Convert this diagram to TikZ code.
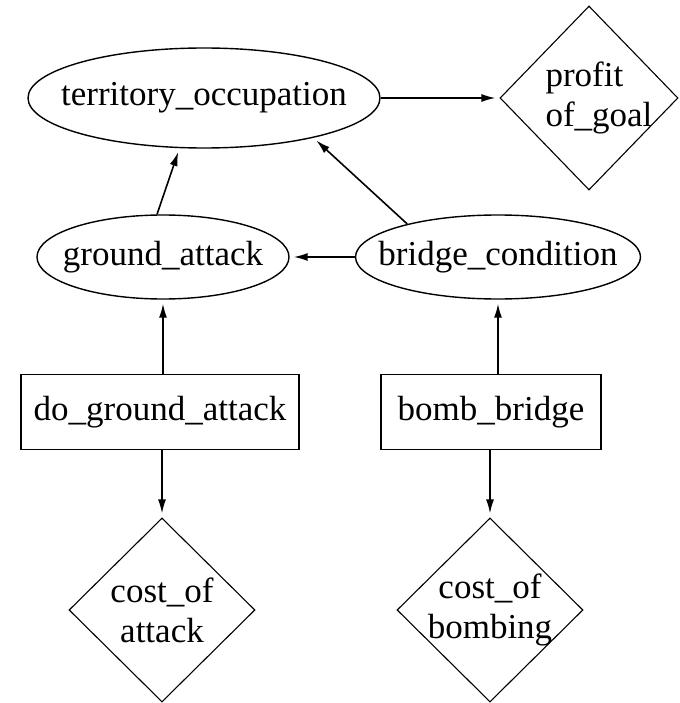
\documentclass[tikz,border=0pt]{standalone}
\usepackage{fontspec}
\setmainfont{Liberation Serif}
\usetikzlibrary{shapes.geometric,arrows.meta}
\begin{document}
\begin{tikzpicture}[x=1pt,y=-1pt,
  every node/.style={font=\fontsize{35}{40}\selectfont},
  oval/.style={draw,ellipse,line width=1.4pt,inner sep=0pt},
  box/.style={draw,rectangle,line width=1.6pt,inner sep=0pt},
  dia/.style={draw,diamond,line width=1.1pt,inner sep=0pt},
  edge/.style={line width=1.6pt,-{Latex[length=14pt,width=8pt]},shorten >=4pt}]
\useasboundingbox (0,0) rectangle (679,703);

% chance nodes
\node[oval,minimum width=352,minimum height=100,label={center:territory\_occupation}] (terr) at (204,98) {};
\node[oval,minimum width=252,minimum height=84,label={center:ground\_attack}] (ga) at (163,257) {};
\node[oval,minimum width=285,minimum height=84,label={center:bridge\_condition}] (bc) at (498,257) {};

% decision nodes
\node[box,minimum width=278,minimum height=75] (dga) at (160,412) {do\_ground\_attack};
\node[box,minimum width=220,minimum height=75] (bb) at (491,412) {bomb\_bridge};

% utility nodes
\node[dia,minimum width=178,minimum height=184,label={[align=left,xshift=10pt]center:profit\\of\_goal}] (profit) at (589,98) {};
\node[dia,minimum width=186,minimum height=184,label={[align=center]center:cost\_of\\attack}] (coa) at (162,610) {};
\node[dia,minimum width=186,minimum height=184,label={[align=center]center:cost\_of\\bombing}] (cob) at (490,610) {};

% influences
\draw[edge] (terr.east) -- (profit.west);
\draw[edge] (ga.98) -- (terr.244);
\draw[edge] (bc.160) -- (terr.340);
\draw[edge] (bc.west) -- (ga.east);
\draw[edge] (dga.north -| ga.south) -- (ga.south);
\draw[edge] (bb.north -| bc.south) -- (bc.south);
\draw[edge] (dga.south -| coa.north) -- (coa.north);
\draw[edge] (bb.south -| cob.north) -- (cob.north);
\end{tikzpicture}
\end{document}
